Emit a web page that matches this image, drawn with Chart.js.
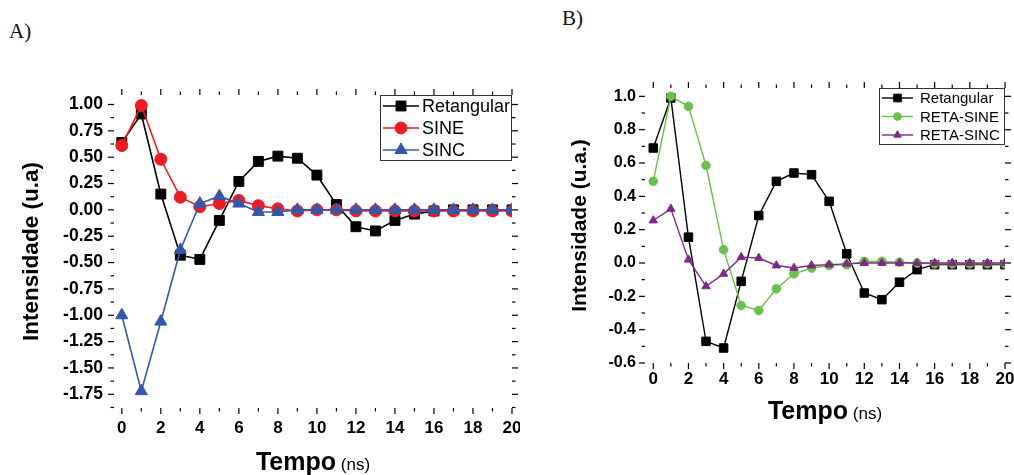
<!DOCTYPE html>
<html>
<head>
<meta charset="utf-8">
<script src="https://cdn.jsdelivr.net/npm/chart.js@4.4.0/dist/chart.umd.min.js"></script>
<style>
  body { margin: 0; background: #fff; width: 1014px; height: 475px; overflow: hidden; position: relative; }
  .wrap { position: absolute; top: 0; height: 475px; overflow: hidden; }
  #wrapA { left: 0; width: 520px; }
  #wrapB { left: 530px; width: 484px; }
  .tag { position: absolute; font-family: "Liberation Serif", "Times New Roman", serif; font-size: 21px; color: #111; }
</style>
</head>
<body>
<div class="tag" style="left:9px;top:19px">A)</div>
<div class="tag" style="left:562px;top:6px">B)</div>
<div id="wrapA" class="wrap"><canvas id="chartA"></canvas></div>
<div id="wrapB" class="wrap"><canvas id="chartB"></canvas></div>

<script>
// tempo (ns)
var tempo = [0, 1, 2, 3, 4, 5, 6, 7, 8, 9, 10, 11, 12, 13, 14, 15, 16, 17, 18, 19, 20];
var xTicks = [0, 2, 4, 6, 8, 10, 12, 14, 16, 18, 20];
var xMinor = [1, 3, 5, 7, 9, 11, 13, 15, 17, 19];

// Gráfico A
var retangularA = [0.64, 0.91, 0.15, -0.43, -0.47, -0.10, 0.27, 0.46, 0.51, 0.49, 0.33, 0.05, -0.16, -0.20, -0.10, -0.04, -0.01, 0.00, 0.00, 0.00, 0.00];
var sineA = [0.61, 0.99, 0.48, 0.12, 0.03, 0.06, 0.09, 0.04, 0.01, -0.01, 0.00, 0.00, -0.01, -0.01, -0.01, -0.01, -0.01, -0.01, -0.01, -0.01, -0.01];
var sincA = [-1.00, -1.72, -1.06, -0.38, 0.06, 0.13, 0.06, -0.02, -0.02, 0.00, 0.00, 0.00, 0.00, 0.00, 0.00, 0.00, 0.00, 0.00, 0.00, 0.00, 0.00];
var yTicksA = [-1.75, -1.5, -1.25, -1.0, -0.75, -0.5, -0.25, 0.0, 0.25, 0.5, 0.75, 1.0];
var yMinorA = [-1.875, -1.625, -1.375, -1.125, -0.875, -0.625, -0.375, -0.125, 0.125, 0.375, 0.625, 0.875];

// Gráfico B
var retangularB = [0.69, 0.99, 0.155, -0.47, -0.51, -0.11, 0.285, 0.49, 0.54, 0.53, 0.37, 0.055, -0.18, -0.22, -0.115, -0.04, -0.01, -0.01, -0.01, -0.01, -0.01];
var retaSineB = [0.49, 1.0, 0.94, 0.585, 0.08, -0.255, -0.285, -0.155, -0.065, -0.03, -0.015, -0.01, 0.01, 0.01, 0.005, 0.0, -0.005, -0.005, -0.005, -0.005, -0.005];
var retaSincB = [0.255, 0.325, 0.02, -0.14, -0.065, 0.035, 0.03, -0.015, -0.03, -0.015, -0.01, -0.005, 0.0, 0.0, 0.0, 0.0, 0.0, 0.0, 0.0, 0.0, 0.0];
var yTicksB = [-0.6, -0.4, -0.2, 0.0, 0.2, 0.4, 0.6, 0.8, 1.0];
var yMinorB = [-0.5, -0.3, -0.1, 0.1, 0.3, 0.5, 0.7, 0.9];

var FONT = '"Liberation Sans", Arial, sans-serif';

function pts(values) {
    return tempo.map(function (t, i) { return { x: t, y: values[i] }; });
}

function serie(label, values, color, style, radius, order, width) {
    return {
        label: label,
        data: pts(values),
        borderColor: color,
        backgroundColor: color,
        pointBackgroundColor: color,
        pointBorderColor: color,
        pointBorderWidth: 1,
        pointStyle: style,
        pointRadius: radius,
        borderWidth: width,
        tension: 0,
        order: order
    };
}

// moldura, ticks menores, legenda e título do eixo x
var decor = {
    id: 'decor',
    afterDraw: function (chart, args, o) {
        var ctx = chart.ctx, a = chart.chartArea, x = chart.scales.x, y = chart.scales.y;
        ctx.save();
        ctx.strokeStyle = '#000';
        ctx.lineWidth = 1.2;
        function tick(x1, y1, x2, y2) { ctx.beginPath(); ctx.moveTo(x1, y1); ctx.lineTo(x2, y2); ctx.stroke(); }
        xTicks.forEach(function (v) {
            var p = x.getPixelForValue(v);
            tick(p, a.bottom, p, a.bottom + 6); tick(p, a.top, p, a.top - 6);
        });
        xMinor.forEach(function (v) {
            var p = x.getPixelForValue(v);
            tick(p, a.bottom, p, a.bottom + 3.5); tick(p, a.top, p, a.top - 3.5);
        });
        o.yMajor.forEach(function (v) {
            var p = y.getPixelForValue(v);
            tick(a.left - 6, p, a.left, p); tick(a.right, p, a.right + 6, p);
        });
        o.yMinor.forEach(function (v) {
            var p = y.getPixelForValue(v);
            if (p < a.top || p > a.bottom) return;
            tick(a.left - 3.5, p, a.left, p); tick(a.right, p, a.right + 3.5, p);
        });

        // legenda
        var L = o.legend;
        var bx = a.right - L.w, by = a.top;
        ctx.fillStyle = '#fff';
        ctx.fillRect(bx, by, L.w, L.h);
        ctx.lineWidth = 1;
        ctx.strokeStyle = '#333';
        ctx.strokeRect(bx + 0.5, by + 0.5, L.w - 1, L.h - 1);
        ctx.font = L.size + 'px ' + FONT;
        ctx.textBaseline = 'middle';
        chart.data.datasets.forEach(function (d, i) {
            var cy = by + L.first + i * L.step;
            ctx.strokeStyle = d.borderColor;
            ctx.lineWidth = d.borderWidth;
            tick(bx + 3, cy, bx + 3 + L.line, cy);
            ctx.fillStyle = d.backgroundColor;
            ctx.lineWidth = 1;
            Chart.helpers.drawPoint(ctx, { pointStyle: d.pointStyle, radius: d.pointRadius * L.scale, borderWidth: 1, rotation: 0 }, bx + 3 + L.line / 2, cy);
            ctx.fillStyle = '#000';
            ctx.textAlign = 'left';
            ctx.fillText(d.label, bx + L.text, cy + 1);
        });

        // título do eixo x
        var cx = (a.left + a.right) / 2;
        ctx.textBaseline = 'alphabetic';
        ctx.font = 'bold 25px ' + FONT;
        var w1 = ctx.measureText('Tempo').width;
        ctx.font = '17px ' + FONT;
        var w2 = ctx.measureText(' (ns)').width;
        var sx = cx - (w1 + w2) / 2;
        ctx.fillStyle = '#000';
        ctx.textAlign = 'left';
        ctx.font = 'bold 25px ' + FONT;
        ctx.fillText('Tempo', sx, o.titleY);
        ctx.font = '17px ' + FONT;
        ctx.fillText(' (ns)', sx + w1, o.titleY);
        ctx.restore();
    }
};

function grafico(id, cfg) {
    return new Chart(document.getElementById(id), {
        type: 'line',
        data: { datasets: cfg.datasets },
        plugins: [decor],
        options: {
            responsive: true,
            maintainAspectRatio: false,
            animation: false,
            devicePixelRatio: 1,
            layout: { padding: { top: cfg.top, right: cfg.right, left: 0, bottom: 0 } },
            plugins: {
                legend: { display: false },
                tooltip: { enabled: false },
                decor: { yMajor: cfg.yTicks, yMinor: cfg.yMinor, legend: cfg.legend, titleY: cfg.titleY }
            },
            scales: {
                x: {
                    type: 'linear',
                    min: cfg.xMin,
                    max: 20,
                    afterBuildTicks: function (s) { s.ticks = xTicks.map(function (v) { return { value: v }; }); },
                    afterFit: function (s) { s.height = cfg.xHeight; s.paddingLeft = 0; s.paddingRight = 0; },
                    grid: { drawOnChartArea: false, color: 'transparent', tickColor: 'transparent', tickLength: 6 },
                    border: { display: false },
                    ticks: { color: '#000', padding: cfg.xPad, maxRotation: 0, font: { family: FONT, size: 17, weight: 'bold' } }
                },
                y: {
                    min: cfg.yMin,
                    max: cfg.yMax,
                    afterBuildTicks: function (s) { s.ticks = cfg.yTicks.map(function (v) { return { value: v }; }); },
                    afterFit: function (s) { s.width = cfg.yWidth; s.paddingTop = 0; s.paddingBottom = 0; },
                    grid: { drawOnChartArea: false, color: 'transparent', tickColor: 'transparent', tickLength: 6 },
                    border: { display: false },
                    ticks: {
                        color: '#000',
                        padding: cfg.yPad,
                        font: { family: FONT, size: cfg.tickSize, weight: 'bold' },
                        callback: function (v) { return Number(v).toFixed(cfg.decimals); }
                    },
                    title: {
                        display: true,
                        text: cfg.yTitle,
                        color: '#000',
                        padding: { top: cfg.yTitlePad, bottom: 0 },
                        font: { family: FONT, size: cfg.yTitleSize, weight: 'bold' }
                    }
                }
            }
        }
    });
}

//Gráfico A - Retangular, SINE, SINC
grafico('chartA', {
    datasets: [
        serie('Retangular', retangularA, '#000000', 'rect', 7, 3, 1.6),
        serie('SINE', sineA, '#ed1c24', 'circle', 6, 2, 1.6),
        serie('SINC', sincA, '#3457a8', 'triangle', 7, 1, 1.6)
    ],
    top: 95, right: 2, yWidth: 114, xHeight: 67, xMin: -0.4,
    yMin: -1.88, yMax: 1.09, yTicks: yTicksA, yMinor: yMinorA, decimals: 2,
    tickSize: 17.5, xPad: 4, yPad: 5,
    yTitle: 'Intensidade (u.a)', yTitleSize: 22.5, yTitlePad: 18,
    titleY: 470,
    legend: { w: 132, h: 66, first: 11, step: 22, size: 18, line: 36, text: 42, scale: 1 }
});

//Gráfico B - Retangular, RETA-SINE, RETA-SINC
grafico('chartB', {
    datasets: [
        serie('Retangular', retangularB, '#000000', 'rect', 6, 3, 1.4),
        serie('RETA-SINE', retaSineB, '#6cbf4c', 'circle', 4.3, 2, 1.4),
        serie('RETA-SINC', retaSincB, '#7d2a86', 'triangle', 4.8, 1, 1.4)
    ],
    top: 88, right: 9, yWidth: 115, xHeight: 112, xMin: -0.47,
    yMin: -0.6, yMax: 1.05, yTicks: yTicksB, yMinor: yMinorB, decimals: 1,
    tickSize: 16, xPad: 0, yPad: 3,
    yTitle: 'Intensidade (u.a.)', yTitleSize: 21, yTitlePad: 38,
    titleY: 419,
    legend: { w: 126, h: 57, first: 10, step: 18.5, size: 15, line: 31, text: 41, scale: 0.9 }
});
</script>
</body>
</html>
